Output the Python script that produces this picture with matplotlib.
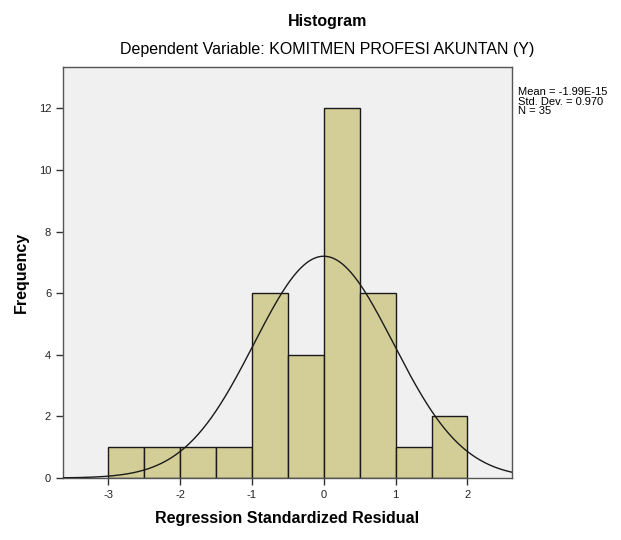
import numpy as np
import matplotlib.pyplot as plt

plt.rcParams['font.family'] = ['Liberation Sans', 'DejaVu Sans']

bin_edges = [-3.0, -2.5, -2.0, -1.5, -1.0, -0.5, 0.0, 0.5, 1.0, 1.5, 2.0]
counts = [1, 1, 1, 1, 6, 4, 12, 6, 1, 2]
mean = -1.99e-15
std = 0.970
n = 35

fig = plt.figure(figsize=(6.21, 5.4), dpi=100)
ax = fig.add_axes([0.1014, 0.1148, 0.7231, 0.7612])
ax.set_facecolor('#f0f0f0')

lefts = bin_edges[:-1]
widths = np.diff(bin_edges)
ax.bar(lefts, counts, width=widths, align='edge', color='#d3ce97',
       edgecolor='#1a1a1a', linewidth=1.0, zorder=2)

xlim = (-3.63, 2.62)
xs = np.linspace(xlim[0], xlim[1], 400)
bw = widths[0]
ys = n * bw / (std * np.sqrt(2 * np.pi)) * np.exp(-0.5 * ((xs - mean) / std) ** 2)
ax.plot(xs, ys, color='#1a1a1a', linewidth=1.0, zorder=3)

ax.set_xlim(*xlim)
ax.set_ylim(0, 13.34)
ax.set_xticks([-3, -2, -1, 0, 1, 2])
ax.set_xticklabels(['-3', '-2', '-1', '0', '1', '2'])
ax.set_yticks([0, 2, 4, 6, 8, 10, 12])
ax.tick_params(direction='out', length=5, width=1, labelsize=8,
               colors='#333333', labelcolor='#222222')
for s in ax.spines.values():
    s.set_color('#555555')
    s.set_linewidth(1.0)

ax.set_xlabel('Regression Standardized Residual', fontsize=11.5,
              fontweight='bold', labelpad=8)
ax.set_ylabel('Frequency', fontsize=11.5, fontweight='bold', labelpad=7)

fig.text(0.527, 0.960, 'Histogram', ha='center', va='center',
         fontsize=11.5, fontweight='bold')
fig.text(0.527, 0.908, 'Dependent Variable: KOMITMEN PROFESI AKUNTAN (Y)',
         ha='center', va='center', fontsize=11.5)

fig.text(0.834, 0.838, f'Mean = -1.99E-15\nStd. Dev. = {std:.3f}\nN = {n}',
         ha='left', va='top', fontsize=8, linespacing=0.9)

fig.savefig('out.png', dpi=100)
